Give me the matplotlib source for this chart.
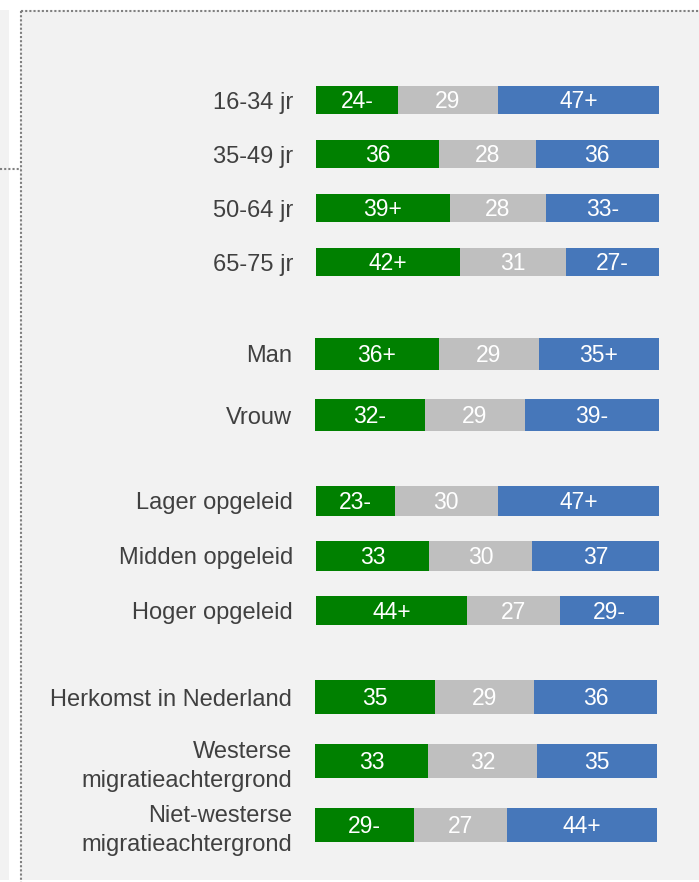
import matplotlib.pyplot as plt
from matplotlib.patches import Rectangle
from matplotlib.lines import Line2D

plt.rcParams['font.family'] = ['Liberation Sans', 'DejaVu Sans']

# four blocks of rows: age, sex, education, origin
groups = [
    ["16-34 jr", "35-49 jr", "50-64 jr", "65-75 jr"],
    ["Man", "Vrouw"],
    ["Lager opgeleid", "Midden opgeleid", "Hoger opgeleid"],
    ["Herkomst in Nederland", "Westerse\nmigratieachtergrond",
     "Niet-westerse\nmigratieachtergrond"],
]
green = [[24, 36, 39, 42], [36, 32], [23, 33, 44], [35, 33, 29]]
grey = [[29, 28, 28, 31], [29, 29], [30, 30, 27], [29, 32, 27]]
blue = [[47, 36, 33, 27], [35, 39], [47, 37, 29], [36, 35, 44]]
green_sig = [["-", "", "+", "+"], ["+", "-"], ["-", "", "+"], ["", "", "-"]]
grey_sig = [["", "", "", ""], ["", ""], ["", "", ""], ["", "", ""]]
blue_sig = [["+", "", "-", "-"], ["+", "-"], ["+", "", "-"], ["", "", "+"]]

W, H = 699, 882
fig = plt.figure(figsize=(W / 100, H / 100), dpi=100, facecolor='white')


def fx(px):
    return px / W


def fy(py):
    return 1 - py / H


# panel background and dotted frame, kept behind the axes
fig.patches.append(Rectangle((fx(20), fy(880)), fx(W - 20), (880 - 10) / H,
                             transform=fig.transFigure, facecolor='#f2f2f2',
                             edgecolor='none', zorder=-2))
fig.patches.append(Rectangle((0, fy(880)), fx(8.5), (880 - 10) / H,
                             transform=fig.transFigure, facecolor='#f2f2f2',
                             edgecolor='none', zorder=-2))
dot = dict(transform=fig.transFigure, color='#808080', linewidth=1.5,
           linestyle=(0, (1, 1)), zorder=-1)
fig.lines.append(Line2D([fx(20.5), fx(20.5)], [fy(10.5), fy(882)], **dot))
fig.lines.append(Line2D([fx(20.5), 1], [fy(10.5), fy(10.5)], **dot))
fig.lines.append(Line2D([0, fx(20.5)], [fy(168.5), fy(168.5)], **dot))

# (top px, bottom px, bar height, left px, right px) per block
layout = [
    (73, 289, 0.53, 316, 659),
    (323.5, 445.5, 0.52, 315, 659),
    (473.6, 637.9, 0.54, 316, 659),
    (665, 857, 0.53, 315, 657),
]

colors = ['#008000', '#bfbfbf', '#4677ba']

for g, (top, bot, bh, left, right) in enumerate(layout):
    ax = fig.add_axes([fx(left), fy(bot), fx(right - left), (bot - top) / H])
    ax.set_facecolor('none')
    n = len(groups[g])
    ys = list(range(n))
    starts = [0] * n
    for vals, sigs, col in zip([green[g], grey[g], blue[g]],
                               [green_sig[g], grey_sig[g], blue_sig[g]], colors):
        ax.barh(ys, vals, left=starts, height=bh, color=col, edgecolor='none')
        for i in ys:
            # baseline sits half a cap height below the bar centre
            ax.annotate(f"{vals[i]}{sigs[i]}", (starts[i] + vals[i] / 2, i),
                        xytext=(0, -6), textcoords='offset points',
                        ha='center', va='baseline', color='white', fontsize=16.5)
        starts = [s + v for s, v in zip(starts, vals)]
    ax.set_xlim(0, 100)
    ax.set_ylim(n - 0.5, -0.5)
    ax.set_yticks(ys, groups[g])
    ax.set_xticks([])
    ax.tick_params(axis='y', length=0, pad=16.5, labelsize=17, labelcolor='#404040')
    plt.setp(ax.get_yticklabels(), linespacing=1.4)
    for s in ax.spines.values():
        s.set_visible(False)

fig.savefig('out.png', dpi=100, facecolor='white')
